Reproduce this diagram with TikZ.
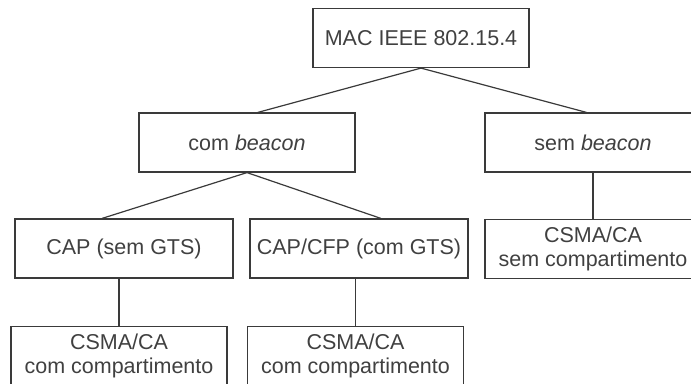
\documentclass[tikz,border=0pt]{standalone}
\usepackage{fontspec}
\setmainfont{Liberation Sans}
\usetikzlibrary{calc}
\definecolor{linegray}{HTML}{3A3A3A}
\definecolor{textgray}{HTML}{404040}
\begin{document}
\begin{tikzpicture}[x=1pt,y=-1pt,
  box/.style={draw=linegray, line width=1.2pt, minimum width=216pt, minimum height=59pt,
    inner sep=0pt, align=center, font=\fontsize{21.5}{24.5}\selectfont, text=textgray},
  widebox/.style={box, minimum width=218pt},
  conn/.style={draw=linegray, line width=1.2pt}]
\useasboundingbox (0,0) rectangle (691,383);
\clip (0,0) rectangle (691,383);
\node[box] (root) at (421,38) {MAC IEEE 802.15.4};
\node[box] (com) at (247,142.5) {com \textit{beacon}};
\node[box] (sem) at (593,142.5) {sem \textit{beacon}};
\node[widebox] (cap) at (124,248.5) {CAP (sem GTS)};
\node[widebox] (capcfp) at (359,248.5) {CAP/CFP (com GTS)};
\node[box] (csmaS) at (593,249) {CSMA/CA\\sem compartimento};
\node[box] (csmaL) at (119,356) {CSMA/CA\\com compartimento};
\node[box] (csmaR) at (355.5,356) {CSMA/CA\\com compartimento};
% connectors
\draw[conn] (root.south) -- ($(com.north west)!0.55!(com.north east)$);
\draw[conn] (root.south) -- ($(sem.north west)!0.47!(sem.north east)$);
\draw[conn] (com.south) -- ($(cap.north west)!0.40!(cap.north east)$);
\draw[conn] (com.south) -- ($(capcfp.north west)!0.60!(capcfp.north east)$);
\draw[conn] (csmaL.north |- cap.south) -- (csmaL.north);
\draw[conn] (csmaR.north |- capcfp.south) -- (csmaR.north);
\draw[conn] (sem.south) -- (csmaS.north);
\end{tikzpicture}
\end{document}
